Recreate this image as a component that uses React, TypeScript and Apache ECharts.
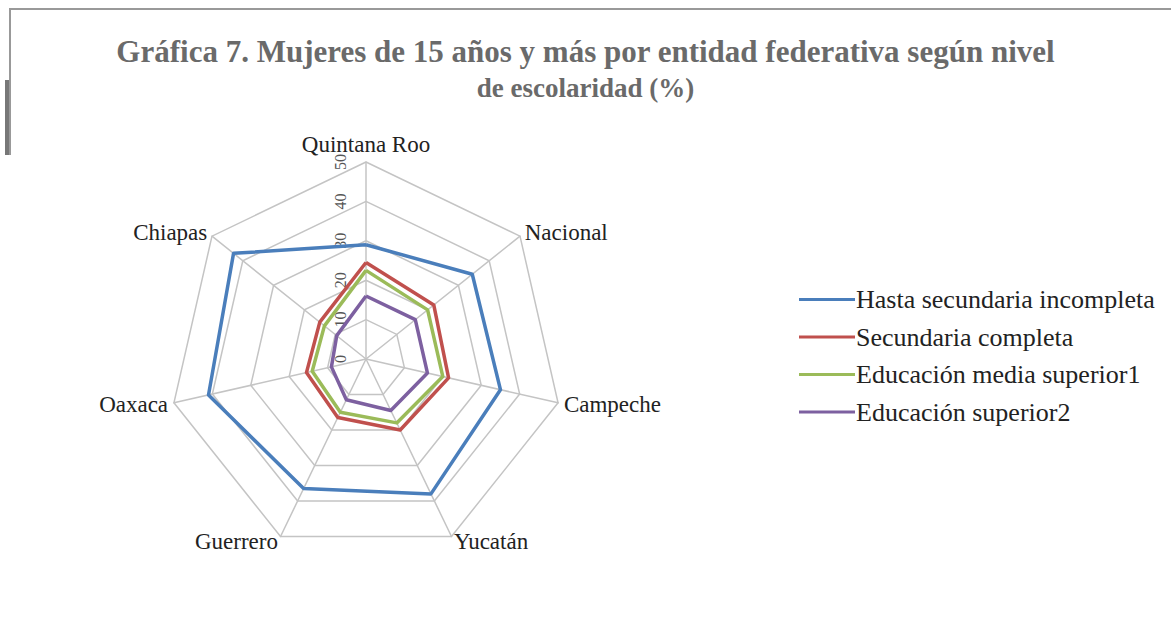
import React, { useEffect, useRef } from "react";
import * as echarts from "echarts";

const titleLine1 = "Gráfica 7. Mujeres de 15 años y más por entidad federativa según nivel";
const titleLine2 = "de escolaridad (%)";

// clockwise from the top
const states = ["Quintana Roo", "Nacional", "Campeche", "Yucatán", "Guerrero", "Oaxaca", "Chiapas"];
const seriesNames = [
  "Hasta secundaria incompleta",
  "Secundaria completa",
  "Educación media superior1",
  "Educación superior2",
];
const hastaSecIncompleta = [29, 34.5, 35, 38, 36.5, 41, 43];
const secundariaCompleta = [24.5, 22, 21.5, 20, 16.5, 15.5, 15];
const mediaSuperior = [22.5, 20, 20, 18, 15, 14, 13.5];
const educSuperior = [16, 16, 16, 14.5, 11.5, 9, 9.5];
const colors = ["#4a7ebb", "#c0504d", "#9bbb59", "#7d60a0"];
const axisMax = 50;
const tickInterval = 10;

// ECharts radar goes counter-clockwise: reorder
const order = [0, 6, 5, 4, 3, 2, 1];
const reorder = (arr: any[]) => order.map((i) => arr[i]);

export default function App() {
  const ref = useRef<HTMLDivElement>(null);
  useEffect(() => {
    const chart = echarts.init(ref.current!, null, { renderer: "svg" });
    const font = "'Liberation Serif', 'Times New Roman', serif";
    const allData = [hastaSecIncompleta, secundariaCompleta, mediaSuperior, educSuperior];
    chart.setOption({
      animation: false,
      backgroundColor: "#fff",
      title: {
        text: titleLine1,
        subtext: titleLine2,
        left: "center",
        top: 31,
        itemGap: 7,
        textStyle: { fontFamily: font, fontWeight: "bold", fontSize: 31, color: "#6a6a6a" },
        subtextStyle: { fontFamily: font, fontWeight: "bold", fontSize: 27, color: "#6a6a6a" },
      },
      legend: {
        orient: "vertical",
        left: 794,
        top: 281,
        icon: "rect",
        itemWidth: 56,
        itemHeight: 3,
        itemGap: 10.5,
        data: seriesNames,
        textStyle: { fontFamily: font, fontSize: 26, color: "#222", padding: [0, 0, 0, -4], lineHeight: 27 },
      },
      polar: { center: [366, 359], radius: 197 },
      angleAxis: { show: false, startAngle: 90, min: 0, max: 360 },
      radiusAxis: {
        min: 0,
        max: axisMax,
        interval: tickInterval,
        axisLine: { show: false },
        axisTick: { show: false },
        splitLine: { show: false },
        axisLabel: { rotate: 90, fontFamily: font, fontSize: 16, color: "#555", margin: 18 },
      },
      radar: {
        center: [366, 359],
        radius: 197,
        startAngle: 90,
        shape: "polygon",
        splitNumber: 5,
        indicator: reorder(states).map((n: string) => ({ name: n, min: 0, max: axisMax })),
        axisName: { fontFamily: font, fontSize: 23, color: "#222" },
        nameGap: 6,
        axisLine: { lineStyle: { color: "#c4c4c4", width: 1.5 } },
        splitLine: { lineStyle: { color: "#c4c4c4", width: 1.5 } },
        splitArea: { show: false },
      },
      series: [
        {
          type: "radar",
          symbol: "none",
          data: seriesNames.map((name, i) => ({
            name,
            value: reorder(allData[i]),
            lineStyle: { color: colors[i], width: 3.5 },
            itemStyle: { color: colors[i] },
          })),
        },
      ],
      color: colors,
      graphic: [
        { type: "line", shape: { x1: 10, y1: 9, x2: 1171, y2: 9 }, style: { stroke: "#999", lineWidth: 2 } },
        { type: "line", shape: { x1: 10, y1: 8, x2: 10, y2: 155 }, style: { stroke: "#999", lineWidth: 2 } },
        { type: "line", shape: { x1: 7, y1: 80, x2: 7, y2: 155 }, style: { stroke: "#777", lineWidth: 4 } },
      ],
    });
    return () => chart.dispose();
  }, []);
  return <div ref={ref} style={{ position: "absolute", left: 0, top: 0, width: 1171, height: 622 }} />;
}
